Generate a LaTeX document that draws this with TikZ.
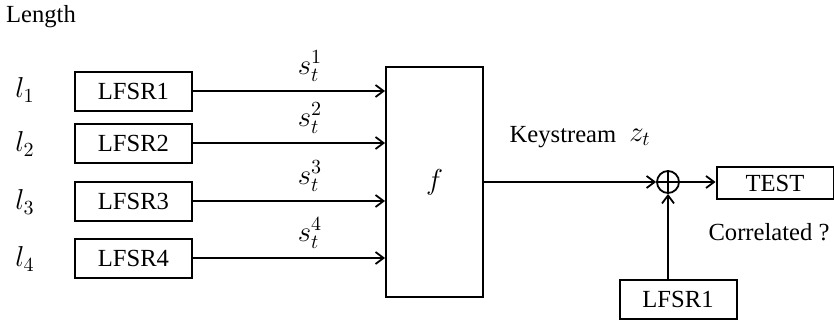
\documentclass[tikz,border=0pt]{standalone}
\usepackage{fontspec}
\setmainfont{Liberation Serif}
\usetikzlibrary{arrows.meta,calc}
\begin{document}
\begin{tikzpicture}[x=0.5pt,y=-0.5pt,
  every node/.style={font=\fontsize{12.3}{14}\selectfont},
  mathlbl/.style={font=\fontsize{14.5}{16}\selectfont,inner sep=1pt},
  reg/.style={draw,line width=1pt,minimum width=58.5pt,minimum height=19.5pt,inner sep=0pt},
  conn/.style={line width=0.9pt},
  arr/.style={conn,-{Straight Barb[length=4pt,width=6pt,line width=0.9pt]}},
  xorop/.style={draw,circle,line width=0.9pt,minimum size=11pt,inner sep=0pt,
    path picture={\draw[line width=0.9pt] (path picture bounding box.north) -- (path picture bounding box.south)
      (path picture bounding box.west) -- (path picture bounding box.east);}}]
\useasboundingbox (0,0) rectangle (834,321);
\node (len) at (41,17) {Length};
\node[mathlbl] (l1) at (25,90) {$l_1$};
\node[mathlbl] (l2) at (25,144) {$l_2$};
\node[mathlbl] (l3) at (25,202) {$l_3$};
\node[mathlbl] (l4) at (25,259) {$l_4$};
\node[reg] (r1) at (133.5,91) {LFSR1};
\node[reg] (r2) at (133.5,143) {LFSR2};
\node[reg] (r3) at (133.5,201) {LFSR3};
\node[reg] (r4) at (133.5,258) {LFSR4};
\node[draw,line width=1pt,minimum width=48.5pt,minimum height=115pt,inner sep=0pt,mathlbl] (f) at (434.5,182) {$f$};
\draw[arr] (r1.east) -- (r1.east -| f.west);
\draw[arr] (r2.east) -- (r2.east -| f.west);
\draw[arr] (r3.east) -- (r3.east -| f.west);
\draw[arr] (r4.east) -- (r4.east -| f.west);
\node[mathlbl] (s1) at (310,66) {$s_t^1$};
\node[mathlbl] (s2) at (310,118) {$s_t^2$};
\node[mathlbl] (s3) at (310,176) {$s_t^3$};
\node[mathlbl] (s4) at (310,233) {$s_t^4$};
\node[xorop] (x) at (668,182) {};
\node[reg,minimum height=16pt] (test) at (775,183) {TEST};
\node[reg] (rb) at (678,299) {LFSR1};
\draw[arr] (f.east |- x.west) -- (x.west);
\draw[arr] (x.east) -- (x.east -| test.west);
\draw[arr] (x.south |- rb.north) -- (x.south);
\node (ks) at (563,137) {Keystream};
\node[mathlbl] (zt) at (640,137) {$z_t$};
\node (cor) at (769,232) {Correlated ?};
\end{tikzpicture}
\end{document}
